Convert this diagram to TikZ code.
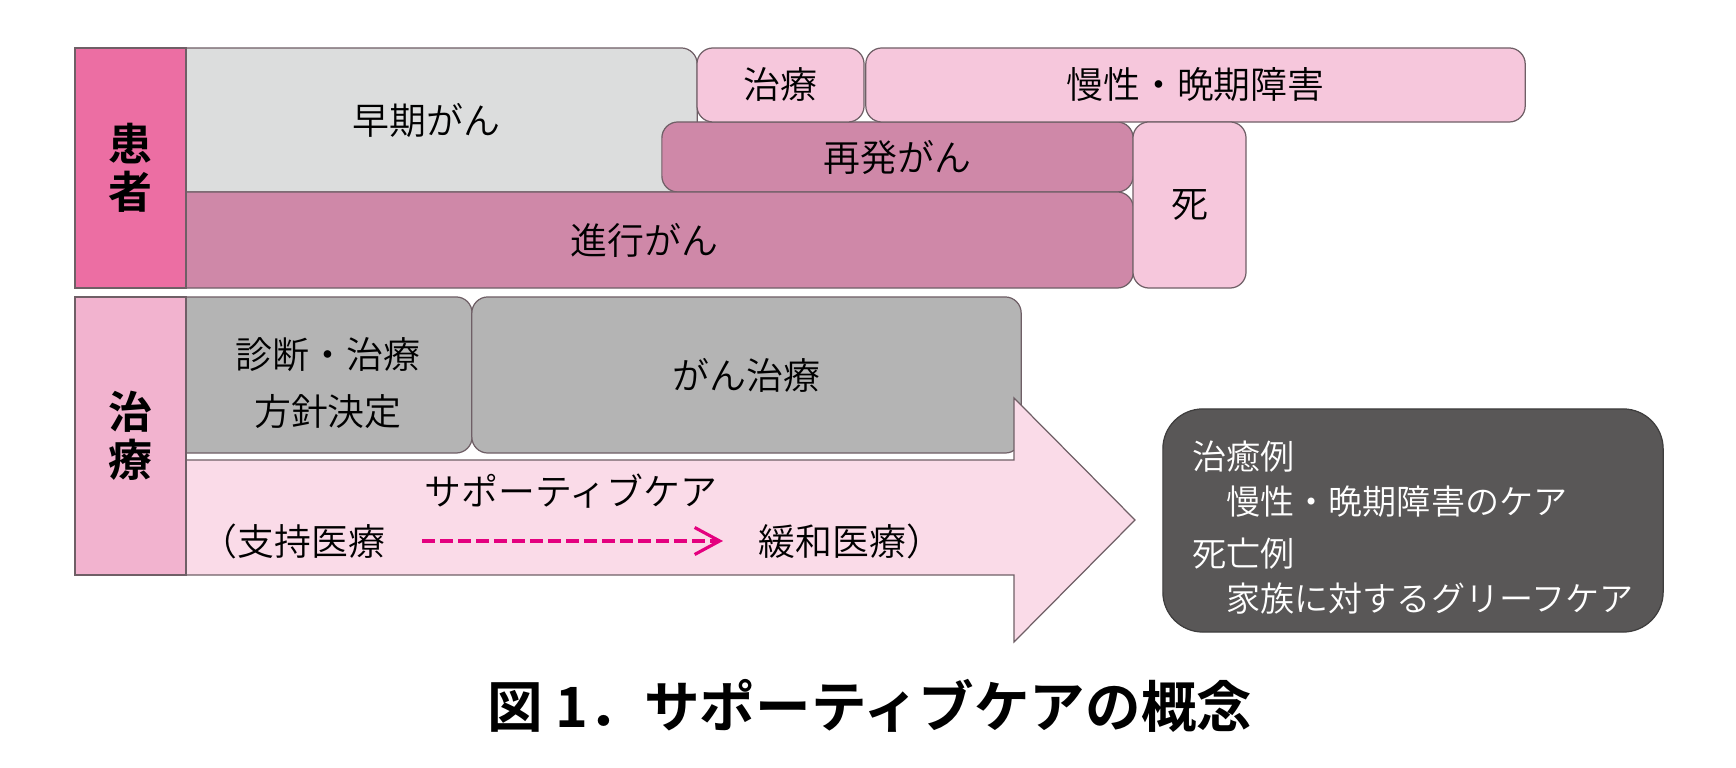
\documentclass[tikz,border=0pt]{standalone}
\usepackage{fontspec}
\IfFontExistsTF{Noto Sans CJK JP DemiLight}
  {\setmainfont{Noto Sans CJK JP DemiLight}[BoldFont={Noto Sans CJK JP Bold}]}
  {\setmainfont{Noto Sans CJK JP}}
\usepackage{tikz}
\usetikzlibrary{arrows.meta}
\definecolor{ptpink}{HTML}{EC6EA3}
\definecolor{trpink}{HTML}{F2B3CF}
\definecolor{lightpink}{HTML}{F6C7DC}
\definecolor{mauve}{HTML}{CF88A8}
\definecolor{lightgray}{HTML}{DCDDDD}
\definecolor{midgray}{HTML}{B4B4B4}
\definecolor{palepink}{HTML}{FADBE8}
\definecolor{darkbox}{HTML}{595757}
\definecolor{dashmag}{HTML}{E4007F}
\definecolor{edgegray}{HTML}{6F5F66}
\tikzstyle{stage}=[draw=edgegray,line width=0.35pt,rounded corners=0.16cm,inner sep=0pt,align=center,font=\fontsize{10.5}{13}\selectfont]
\tikzstyle{headbar}=[draw=edgegray,line width=0.35pt,inner sep=0pt,align=center,font=\bfseries\fontsize{12.5}{13.7}\selectfont]
\tikzstyle{caretext}=[inner sep=0pt,font=\fontsize{10.5}{13}\selectfont]

\begin{document}
\begin{tikzpicture}[x=0.01cm,y=-0.01cm]
        \useasboundingbox (0,0) rectangle (1736,768);
        \node[stage,fill=lightgray,minimum width=5.41cm,minimum height=1.44cm] (early) at (426.5,120) {早期がん};
        \node[stage,fill=mauve,minimum width=4.71cm,minimum height=0.70cm] (relapse) at (897.5,157) {再発がん};
        \node[stage,fill=mauve,minimum width=9.77cm,minimum height=0.96cm] (advanced) at (644.5,240) {進行がん};
        \foreach \name/\cx/\cy/\w/\h/\txt in {tx/780.5/85/1.67/0.74/治療,chronic/1195.5/85/6.59/0.74/慢性・晩期障害,death/1189.5/205/1.13/1.66/死}{
          \node[stage,fill=lightpink,minimum width=\w cm,minimum height=\h cm] (\name) at (\cx,\cy) {\txt};
        }
        \node[headbar,fill=ptpink,minimum width=1.11cm,minimum height=2.40cm] (patient) at (130.5,168) {患\\者};
        \node[stage,fill=midgray,minimum width=3.06cm,minimum height=1.56cm] (diag) at (319,375) {};
        \node[caretext,align=center,font=\fontsize{10.5}{16.2}\selectfont] (diagtext) at (328,383) {診断・治療\\方針決定};
        \node[stage,fill=midgray,minimum width=5.49cm,minimum height=1.56cm] (cancertx) at (746.5,375) {がん治療};
        \draw[draw=edgegray,line width=0.35pt,fill=palepink] (180,460) -- (1014,460) -- (1014,398) -- (1135,520) -- (1014,642) -- (1014,575) -- (180,575) -- cycle;
        \node[headbar,fill=trpink,minimum width=1.11cm,minimum height=2.78cm] (treat) at (130.5,436) {治\\療};
        \node[caretext] (sctitle) at (571,491) {サポーティブケア};
        \node[caretext,anchor=west] (support) at (200,541) {（支持医療};
        \node[caretext,anchor=west] (palli) at (758,541) {緩和医療）};
        \draw[dashmag,line width=0.9pt,dash pattern=on 0.13cm off 0.05cm,shorten <=0.36cm,shorten >=0.35cm,-{Straight Barb[length=0.25cm,width=0.27cm]}] (support) -- (palli);
        \node[stage,fill=darkbox,draw=darkbox!70!black,rounded corners=0.4cm,minimum width=5cm,minimum height=2.23cm] (outcome) at (1413,520.5) {};
        \node[caretext,text=white,align=left,font=\fontsize{9.7}{12.8}\selectfont] (outcometext) at (1413,528) {治癒例\\　慢性・晩期障害のケア\\[2pt]死亡例\\　家族に対するグリーフケア};
        \node[inner sep=0pt,font=\bfseries\fontsize{15.8}{18}\selectfont] (caption) at (870,706) {図 1．サポーティブケアの概念};
      \end{tikzpicture}
\end{document}
